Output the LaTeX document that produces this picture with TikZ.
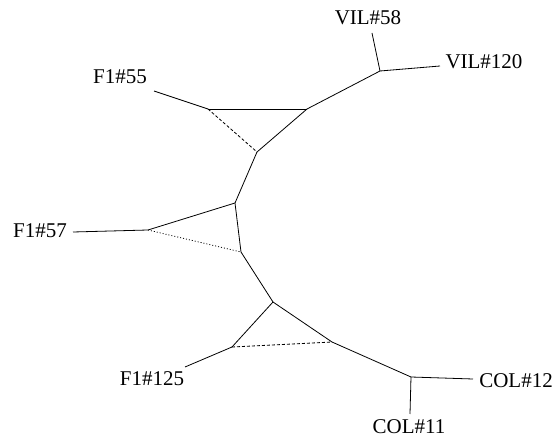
\documentclass[tikz,border=0pt]{standalone}
\usepackage{fontspec}
\setmainfont{Liberation Serif}
\begin{document}
\begin{tikzpicture}[x=1pt,y=-1pt,
  edge/.style={line width=0.8pt},
  dsh/.style={line width=0.8pt,dash pattern=on 3pt off 2pt},
  dot/.style={line width=0.8pt,dash pattern=on 1pt off 2pt},
  lbl/.style={inner sep=0pt,font=\fontsize{21}{21}\selectfont}]
\useasboundingbox (0,0) rectangle (557,443);
% labels
\node[lbl] (l58) at (368,18) {VIL\#58};
\node[lbl] (l120) at (484,62) {VIL\#120};
\node[lbl] (l55) at (120,77) {F1\#55};
\node[lbl] (l57) at (40,231) {F1\#57};
\node[lbl] (l125) at (152,379) {F1\#125};
\node[lbl] (l12) at (516,381) {COL\#12};
\node[lbl] (l11) at (409,427) {COL\#11};
% leaf ends
\coordinate (e58) at (372,33);
\coordinate (e120) at (440,66);
\coordinate (e55) at (154,91);
\coordinate (e57) at (73,232);
\coordinate (e125) at (185,367);
\coordinate (e12) at (473,379);
\coordinate (e11) at (410,414);
% internal
\coordinate (jv) at (380,71);
\coordinate (a1) at (208,109);
\coordinate (a2) at (307,109);
\coordinate (a3) at (257,152);
\coordinate (b1) at (148,230);
\coordinate (b2) at (235,203);
\coordinate (b3) at (241,252);
\coordinate (c1) at (273,302);
\coordinate (c2) at (232,347);
\coordinate (c3) at (332,342);
\coordinate (jc) at (411,377);
% edges
\draw[edge] (e58) -- (jv);
\draw[edge] (e120) -- (jv);
\draw[edge] (jv) -- (a2);
\draw[edge] (e55) -- (a1);
\draw[edge] (a1) -- (a2);
\draw[edge] (a2) -- (a3);
\draw[dsh] (a1) -- (a3);
\draw[edge] (a3) -- (b2);
\draw[edge] (e57) -- (b1);
\draw[edge] (b1) -- (b2);
\draw[edge] (b2) -- (b3);
\draw[dot] (b1) -- (b3);
\draw[edge] (b3) -- (c1);
\draw[edge] (c1) -- (c2);
\draw[edge] (c1) -- (c3);
\draw[dsh] (c2) -- (c3);
\draw[edge] (e125) -- (c2);
\draw[edge] (c3) -- (jc);
\draw[edge] (jc) -- (e12);
\draw[edge] (jc) -- (e11);
\end{tikzpicture}
\end{document}
